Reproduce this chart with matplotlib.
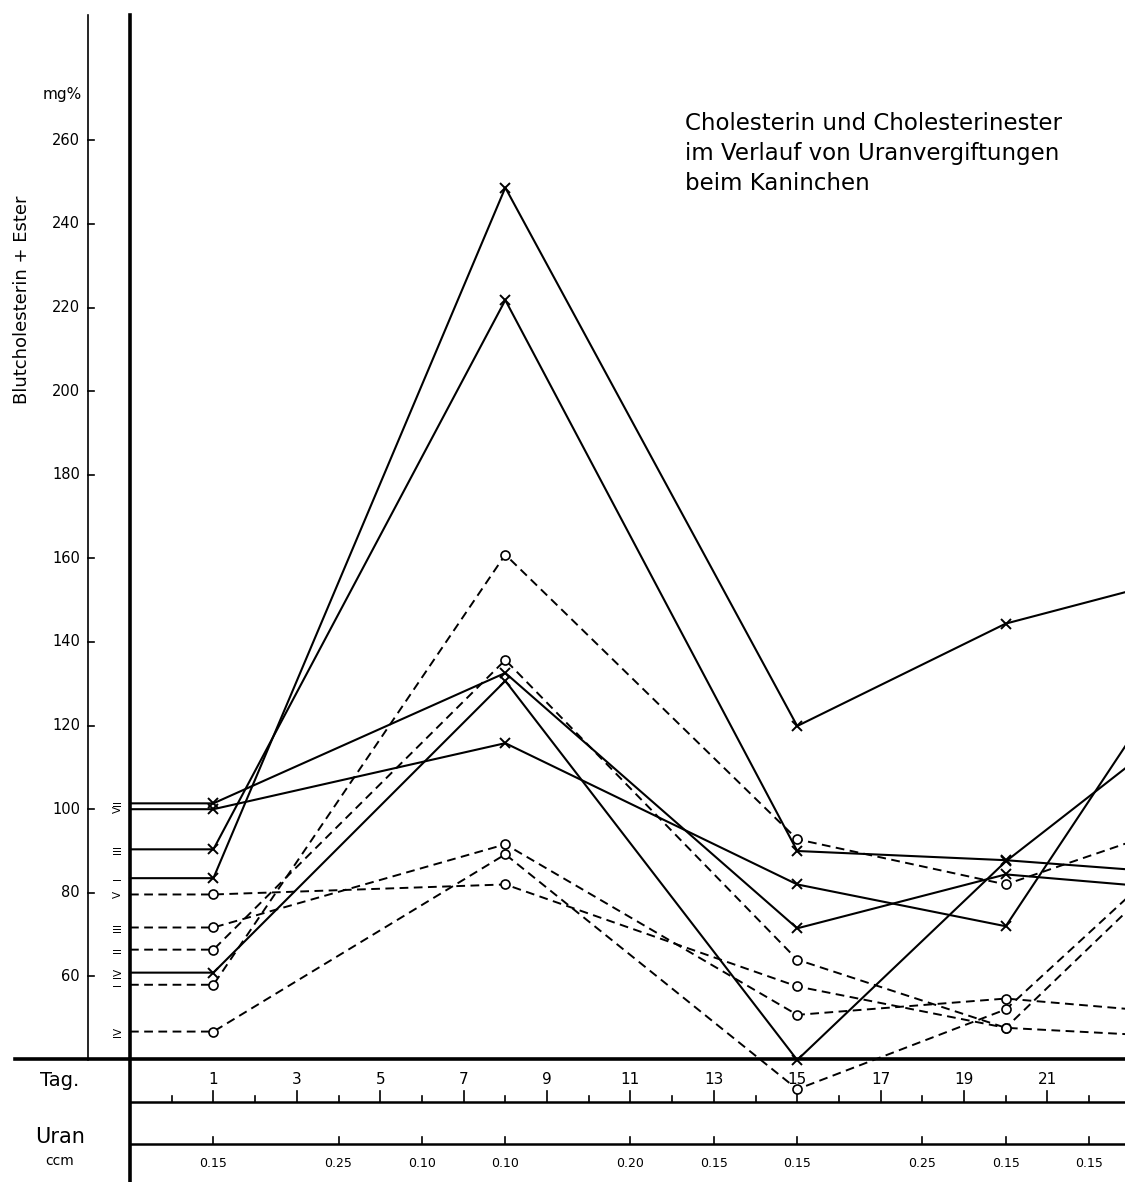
import numpy as np
import matplotlib
matplotlib.use("Agg")
import matplotlib.pyplot as plt
from matplotlib.lines import Line2D
from matplotlib.transforms import blended_transform_factory

W, H = 1125, 1182

# --- data (mg%) -------------------------------------------------------------
days = [1, 8, 15, 20, 24]

# Cholesterin + Ester (solid, x)
chol_I = [83.5, 248.7, 119.9, 144.4, 154.9]
chol_II = [101.4, 132.6, 71.5, 84.4, 81.0]
chol_III = [90.4, 221.8, 90.0, 87.8, 84.8]
chol_IV = [60.9, 130.7, 40.0, 87.5, 118.6]
chol_V = [100.0, 115.8, 82.0, 72.0, 132.1]

# Cholesterinester (dashed, o)
ester_I = [58.0, 160.9, 92.8, 82.0, 95.6]
ester_II = [66.4, 135.7, 64.0, 47.7, 45.6]
ester_III = [71.7, 91.6, 50.8, 54.7, 51.3]
ester_IV = [46.8, 89.2, 33.0, 52.1, 88.8]
ester_V = [79.6, 82.0, 57.6, 47.7, 86.1]

chol = [chol_I, chol_II, chol_III, chol_IV, chol_V]
ester = [ester_I, ester_II, ester_III, ester_IV, ester_V]
roman = ["I", "II", "III", "IV", "V"]

y_ticks = [60, 80, 100, 120, 140, 160, 180, 200, 220, 240, 260]
tag_labels = [1, 3, 5, 7, 9, 11, 13, 15, 17, 19, 21]
uran_days = [1, 4, 6, 8, 11, 13, 15, 18, 20, 22]
uran_ccm = ["0.15", "0.25", "0.10", "0.10", "0.20", "0.15", "0.15", "0.25", "0.15", "0.15"]

title = "Cholesterin und Cholesterinester\nim Verlauf von Uranvergiftungen\nbeim Kaninchen"


def fx(x):
    return x / W


def fy(y):
    return 1 - y / H


fig = plt.figure(figsize=(W / 100, H / 100), dpi=100)
fig.patch.set_facecolor("white")

# bottom strip (Tag / Uran rows), y in pixel rows
axb = fig.add_axes([fx(130), 0, fx(1125 - 130), fy(1060)])
axb.set_xlim(-1, 22.86)
axb.set_ylim(H, 1060)
axb.axis("off")
axb.patch.set_alpha(0)

axb.plot([-1, 22.86], [1102, 1102], color="black", lw=1.8, solid_capstyle="butt")
axb.plot([-1, 22.86], [1144, 1144], color="black", lw=1.8, solid_capstyle="butt")
for d in range(0, 23):
    ln = 11 if d % 2 else 6
    axb.plot([d, d], [1102 - ln, 1102], color="black", lw=1.2)
for d in tag_labels:
    axb.text(d, 1080, str(d), ha="center", va="center", fontsize=11)
for d, lab in zip(uran_days, uran_ccm):
    axb.plot([d, d], [1137, 1144], color="black", lw=1.2)
    axb.text(d, 1164, lab, ha="center", va="center", fontsize=9)

# main plot
ax = fig.add_axes([fx(130), fy(1060), fx(1125 - 130), fy(15) - fy(1060)])
ax.set_xlim(-1, 22.86)
ax.set_ylim(40, 290)
ax.axis("off")
ax.patch.set_alpha(0)

for vals in chol:
    xs = np.r_[-1, days]
    ys = np.r_[vals[0], vals]
    ax.plot(xs, ys, color="black", lw=1.5, marker="x", markersize=7,
            markeredgewidth=1.4, markevery=list(range(1, len(xs))), clip_on=False)

for vals in ester:
    xs = np.r_[-1, days]
    ys = np.r_[vals[0], vals]
    ax.plot(xs, ys, color="black", lw=1.4, linestyle=(0, (4.5, 2.8)),
            marker="o", markersize=6.5, markerfacecolor="white",
            markeredgewidth=1.2, markevery=list(range(1, len(xs))), clip_on=False)

# roman numerals at the start of each curve
tr = blended_transform_factory(fig.transFigure, ax.transData)
for name, vals in zip(roman, chol):
    fig.text(fx(118), vals[0], name, transform=tr, rotation=90,
             ha="center", va="center", fontsize=7.5)
for name, vals in zip(roman, ester):
    fig.text(fx(118), vals[0], name, transform=tr, rotation=90,
             ha="center", va="center", fontsize=7.5)

# thin value scale on the far left
fig.add_artist(Line2D([fx(88), fx(88)], [fy(15), fy(1060)], color="black", lw=1.2))
for v in y_ticks:
    fig.add_artist(Line2D([fx(88), fx(94)], [v, v], transform=tr, color="black", lw=1.2))
    fig.text(fx(80), v, str(v), transform=tr, ha="right", va="center", fontsize=10.5)
fig.text(fx(62), fy(95), "mg%", ha="center", va="center", fontsize=11)
fig.text(fx(22), fy(300), "Blutcholesterin + Ester", rotation=90,
         ha="center", va="center", fontsize=13)

# frame lines
fig.add_artist(Line2D([fx(130), fx(130)], [fy(15), 0], color="black", lw=2.6))
fig.add_artist(Line2D([fx(15), 1], [fy(1059), fy(1059)], color="black", lw=2.6))

fig.text(fx(60), fy(1080), "Tag.", ha="center", va="center", fontsize=14)
fig.text(fx(60), fy(1137), "Uran", ha="center", va="center", fontsize=15)
fig.text(fx(60), fy(1161), "ccm", ha="center", va="center", fontsize=10)

fig.text(fx(685), fy(112), title, ha="left", va="top", fontsize=16.5,
         family="DejaVu Sans", linespacing=1.38)

fig.savefig("out.png", dpi=100)
